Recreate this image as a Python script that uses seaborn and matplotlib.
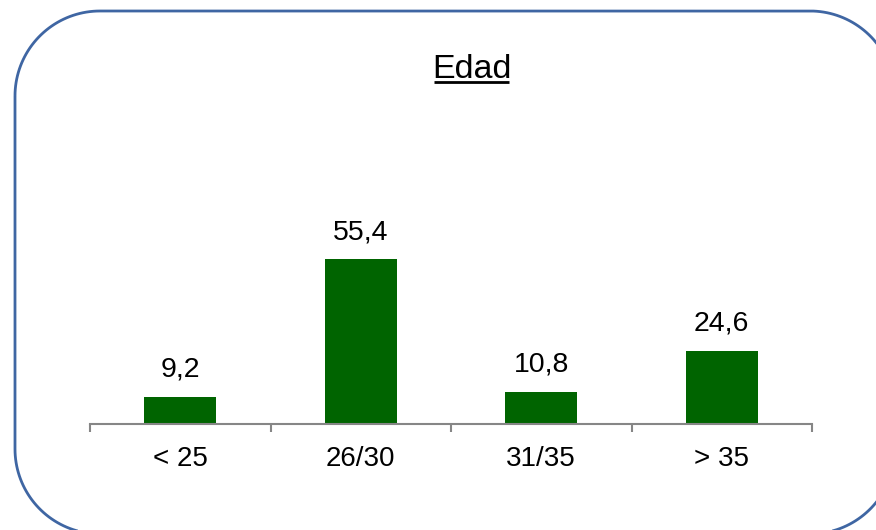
import matplotlib
matplotlib.use("Agg")
import matplotlib.pyplot as plt
import seaborn as sns
import pandas as pd
import numpy as np
from matplotlib.patches import PathPatch
from matplotlib.path import Path
from matplotlib.lines import Line2D

categories = ["< 25", "26/30", "31/35", "> 35"]
values = [9.2, 55.4, 10.8, 24.6]
labels = ["9,2", "55,4", "10,8", "24,6"]
title = "Edad"

sns.set_theme(style="white")
plt.rcParams['font.family'] = ['Liberation Sans', 'DejaVu Sans']

W, H = 876, 530
fig = plt.figure(figsize=(W / 100, H / 100), dpi=100)

# axes placement in pixels
x0, x1 = 90, 812
ybase = 424
px_per_unit = 2.97
ymax = 60
ax = fig.add_axes([x0 / W, (H - ybase) / H, (x1 - x0) / W, ymax * px_per_unit / H])

df = pd.DataFrame({"cat": categories, "val": values})
sns.barplot(data=df, x="cat", y="val", color="#006400", width=0.4, ax=ax,
            saturation=1, edgecolor="none")

ax.set_ylim(0, ymax)
ax.set_xlim(-0.5, len(categories) - 0.5)
for s in ["top", "right", "left"]:
    ax.spines[s].set_visible(False)
ax.spines["bottom"].set_color("#868686")
ax.spines["bottom"].set_linewidth(1.5)
ax.set_yticks([])
ax.set_xlabel("")
ax.set_ylabel("")
ax.set_xticks(range(len(categories)))
ax.set_xticklabels(categories, fontsize=20, color="black")
ax.tick_params(axis="x", which="major", length=0, pad=16)
ax.set_xticks([i - 0.5 for i in range(len(categories) + 1)], minor=True)
ax.tick_params(axis="x", which="minor", length=6, width=1.5, color="#868686",
               direction="out", bottom=True)

for i, (v, lab) in enumerate(zip(values, labels)):
    ax.annotate(lab, (i, v), xytext=(0, 14.5), textcoords="offset points",
                ha="center", va="baseline", fontsize=20.5, color="black")

# title with underline
fig.text(471.5 / W, (H - 77.5) / H, title, ha="center", va="baseline",
         fontsize=24.5, color="black")
fig.add_artist(Line2D([434 / W, 509 / W], [(H - 82) / H, (H - 82) / H],
                      color="black", linewidth=2.0, solid_capstyle="butt"))

# rounded border (pixel coordinates, y from top)
bx0, bx1, by0, by1, r = 15, 895, 11, 534, 85
def arc(cx, cy, a0, a1, n=40):
    t = np.radians(np.linspace(a0, a1, n))
    return np.column_stack([cx + r * np.cos(t), cy - r * np.sin(t)])
pts = np.vstack([
    arc(bx0 + r, by0 + r, 180, 90),
    arc(bx1 - r, by0 + r, 90, 0),
    arc(bx1 - r, by1 - r, 0, -90),
    arc(bx0 + r, by1 - r, -90, -180),
])
pts = np.vstack([pts, pts[:1]])
verts = np.column_stack([pts[:, 0] / 100, (H - pts[:, 1]) / 100])
border = PathPatch(Path(verts), transform=fig.dpi_scale_trans, facecolor="none",
                   edgecolor="#3F66A3", linewidth=2.0, clip_on=False)
fig.add_artist(border)

fig.savefig("out.png", dpi=100)
